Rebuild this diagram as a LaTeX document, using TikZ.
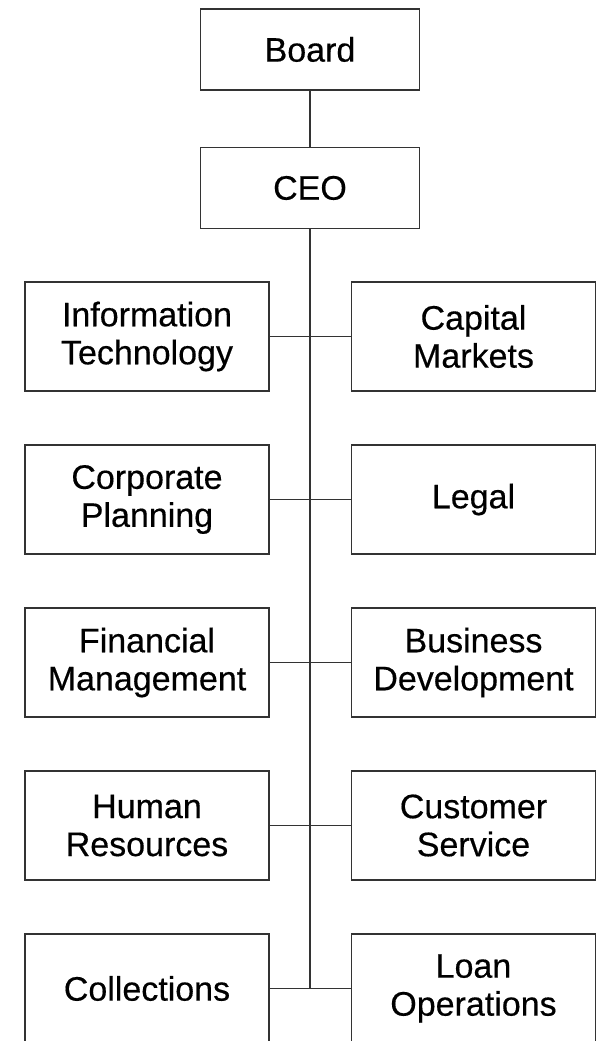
\documentclass[tikz,border=0pt]{standalone}
\usepackage{fontspec}
\setmainfont{Liberation Sans}[FakeBold=0.4]

\begin{document}
\begin{tikzpicture}[x=1pt,y=1pt,
    unit/.style={draw=black!80, line width=1.6pt, align=center, inner sep=0pt,
      minimum width=219pt, minimum height=81pt, font=\fontsize{34}{38}\selectfont},
    dept/.style={unit, minimum width=244pt, minimum height=109pt},
    link/.style={draw=black!80, line width=1.6pt}]
  \useasboundingbox (0,0) rectangle (599,1041);
  % top of the chart
  \node[unit] (board) at (310,991.5) {Board};
  \node[unit] (ceo) at (310,853) {CEO};
  % departments, left column
  \node[dept] (infotech) at (147,704.5) {Information\\Technology};
  \node[dept] (corpplan) at (147,541.5) {Corporate\\Planning};
  \node[dept] (finmgmt) at (147,378.5) {Financial\\Management};
  \node[dept] (humres) at (147,215.5) {Human\\Resources};
  \node[dept] (collect) at (147,52.5) {Collections};
  % departments, right column
  \node[dept] (capmkt) at (473.5,704.5) {Capital\\Markets};
  \node[dept] (legal) at (473.5,541.5) {Legal};
  \node[dept] (busdev) at (473.5,378.5) {Business\\Development};
  \node[dept] (custserv) at (473.5,215.5) {Customer\\Service};
  \node[dept] (loanops) at (473.5,52.5) {Loan\\Operations};
  % lines
  \draw[link] (board) -- (ceo);
  \draw[link] (ceo.south) -- (ceo.south |- collect.east);
  \draw[link] (infotech.east) -- (capmkt.west);
  \draw[link] (corpplan.east) -- (legal.west);
  \draw[link] (finmgmt.east) -- (busdev.west);
  \draw[link] (humres.east) -- (custserv.west);
  \draw[link] (collect.east) -- (loanops.west);
\end{tikzpicture}
\end{document}
